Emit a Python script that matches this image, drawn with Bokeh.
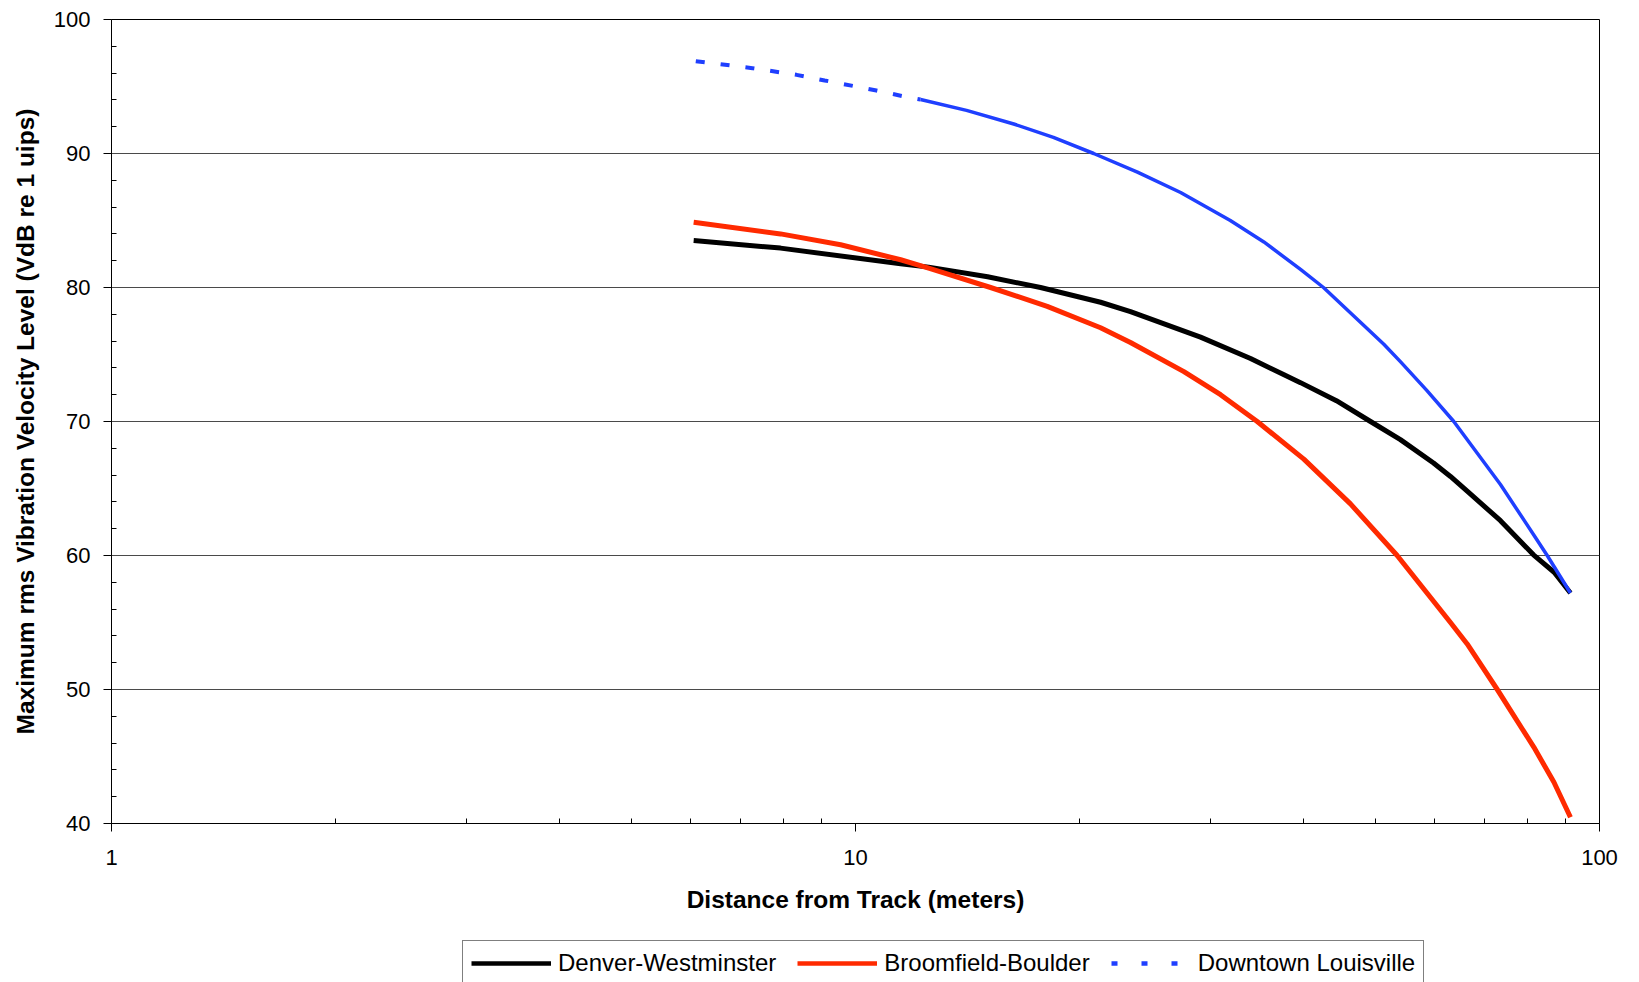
from bokeh.plotting import figure
from bokeh.layouts import column
from bokeh.models import (Legend, LegendItem, FixedTicker, Range1d, PrintfTickFormatter)
from bokeh.embed import file_html
from bokeh.resources import INLINE

# ---- data (distance in meters, level in VdB re 1 uips) ----
dw_dist = [6.06, 7.93, 11.5, 12.54, 15.05, 17.73, 21.35, 23.42, 29.09, 33.96, 37.61, 39.64, 44.3, 49.23, 54.0, 59.83, 63.05, 66.4, 73.61, 81.52, 86.9, 91.4]
dw_vdb = [83.51, 82.94, 81.77, 81.52, 80.8, 80.0, 78.9, 78.2, 76.3, 74.7, 73.5, 72.9, 71.55, 70.0, 68.65, 66.9, 65.9, 64.8, 62.6, 60.05, 58.75, 57.2]

bb_dist = [6.06, 7.93, 9.55, 11.5, 12.54, 15.19, 18.1, 21.35, 23.42, 27.63, 30.95, 34.67, 40.05, 46.27, 53.46, 63.05, 66.4, 72.88, 81.6, 86.82, 91.4]
bb_vdb = [84.87, 84.0, 83.19, 82.07, 81.45, 80.0, 78.59, 77.0, 75.9, 73.72, 72.0, 70.0, 67.19, 63.85, 60.0, 55.0, 53.4, 50.0, 45.7, 43.1, 40.47]

dl_dash_dist = [6.1, 7.27, 8.33, 9.09, 9.97, 10.67, 11.64, 12.23]
dl_dash_vdb = [96.89, 96.37, 95.87, 95.45, 95.02, 94.7, 94.25, 94.03]

dl_dist = [12.23, 14.1, 16.32, 18.45, 20.9, 23.93, 27.35, 31.9, 35.39, 39.64, 42.56, 51.3, 54.0, 58.55, 63.7, 73.6, 81.6, 85.06, 91.4]
dl_vdb = [94.03, 93.22, 92.2, 91.2, 90.0, 88.61, 87.09, 85.0, 83.4, 81.35, 80.0, 75.76, 74.47, 72.34, 70.0, 65.3, 61.53, 60.0, 57.2]

series_names = ["Denver-Westminster", "Broomfield-Boulder", "Downtown Louisville"]
x_major = [1, 10, 100]
y_major = [40, 50, 60, 70, 80, 90, 100]

FONT = "Liberation Sans"
C_DW, C_BB, C_DL = "black", "#FF2A00", "#1F3FFF"

p = figure(width=1639, height=934, x_axis_type="log",
           x_range=Range1d(1, 100), y_range=Range1d(40, 100),
           output_backend="svg", toolbar_location=None,
           min_border_left=111, min_border_top=19, min_border_right=40, min_border_bottom=111)

p.background_fill_color = "white"
p.border_fill_color = "white"
p.outline_line_color = "black"
p.outline_line_width = 1
p.outline_line_alpha = 1

x_minor = [m * d for d in x_major[:-1] for m in range(2, 10)]
y_minor = [v for v in range(y_major[0], y_major[-1] + 1, 2) if v not in y_major]

p.xaxis.ticker = FixedTicker(ticks=x_major, minor_ticks=x_minor)
p.yaxis.ticker = FixedTicker(ticks=y_major, minor_ticks=y_minor)
p.xaxis.formatter = PrintfTickFormatter(format="%d")
p.yaxis.formatter = PrintfTickFormatter(format="%d")

for ax in (p.xaxis, p.yaxis):
    ax.axis_line_color = "black"
    ax.axis_line_width = 1
    ax.major_tick_line_color = "black"
    ax.minor_tick_line_color = "black"
    ax.major_tick_out = 8
    ax.major_tick_in = 0
    ax.minor_tick_in = 5
    ax.minor_tick_out = 0
    ax.major_label_text_font = FONT
    ax.major_label_text_font_size = "22px"
    ax.major_label_text_color = "black"
    ax.axis_label_text_font = FONT
    ax.axis_label_text_font_size = "24.5px"
    ax.axis_label_text_font_style = "bold"
    ax.axis_label_text_color = "black"

p.xaxis.axis_label = "Distance from Track (meters)"
p.yaxis.axis_label = "Maximum rms Vibration Velocity Level (VdB re 1 uips)"
p.xaxis.major_label_standoff = 18
p.xaxis.axis_label_standoff = 18
p.yaxis.major_label_standoff = 13
p.yaxis.axis_label_standoff = 12

p.xgrid.grid_line_color = None
p.ygrid.grid_line_color = "#4a4a4a"
p.ygrid.grid_line_width = 1

p.line(dw_dist, dw_vdb, line_color=C_DW, line_width=5, line_join="round")
p.line(bb_dist, bb_vdb, line_color=C_BB, line_width=5, line_join="round")
p.line(dl_dash_dist, dl_dash_vdb, line_color=C_DL, line_width=4, line_dash="9 16")
p.line(dl_dist, dl_vdb, line_color=C_DL, line_width=3.5, line_join="round")

# ---- legend strip below the chart ----
lg = figure(width=1639, height=48, x_range=Range1d(0, 1), y_range=Range1d(0, 1),
            output_backend="svg", toolbar_location=None,
            x_axis_location=None, y_axis_location=None, min_border=0)
lg.grid.visible = False
lg.outline_line_color = None
lg.background_fill_color = "white"
lg.border_fill_color = "white"

nan = float("nan")
k_dw = lg.line([nan], [nan], line_color=C_DW, line_width=4.5)
k_bb = lg.line([nan], [nan], line_color=C_BB, line_width=4.5)
k_dl = lg.line([nan], [nan], line_color=C_DL, line_width=4.5, line_dash="6 24")

legend = Legend(items=[LegendItem(label=series_names[0], renderers=[k_dw]),
                       LegendItem(label=series_names[1], renderers=[k_bb]),
                       LegendItem(label=series_names[2], renderers=[k_dl])],
                orientation="horizontal", location=(351, -4),
                label_text_font=FONT, label_text_font_size="24px", label_text_color="black",
                glyph_width=80, glyph_height=28, label_height=28, label_standoff=7,
                spacing=21, padding=8, margin=0,
                border_line_color="black", border_line_width=1,
                background_fill_color="white", background_fill_alpha=1)
lg.add_layout(legend, "center")

layout = column(p, lg, spacing=0)
open("out.html", "w").write(file_html(layout, INLINE))
